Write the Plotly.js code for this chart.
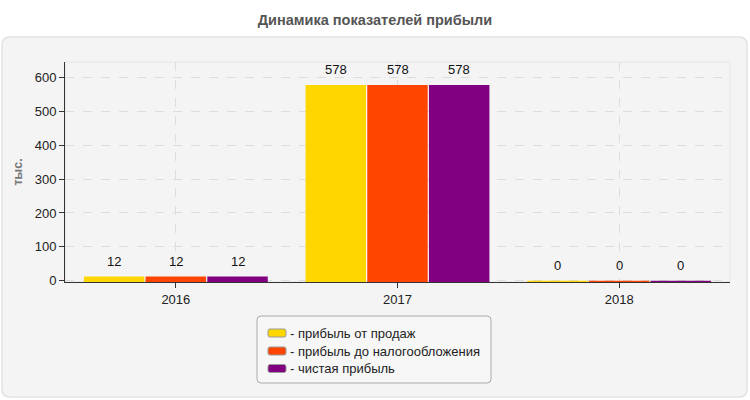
<!DOCTYPE html>
<html>
<head>
<meta charset="utf-8">
<script src="https://cdn.plot.ly/plotly-3.0.1.min.js"></script>
<style>
  html, body { margin: 0; padding: 0; background: #fff; }
  #chart { width: 750px; height: 400px; }
</style>
</head>
<body>
<div id="chart"></div>
<script>
// chart data
const years = ['2016', '2017', '2018'];
const salesProfit = [12, 578, 0];
const pretaxProfit = [12, 578, 0];
const netProfit = [12, 578, 0];
const seriesNames = ['- прибыль от продаж', '- прибыль до налогообложения', '- чистая прибыль'];
const seriesColors = ['#FFD700', '#FF4500', '#800080'];
const allSeries = [salesProfit, pretaxProfit, netProfit];

// plot box in pixels
const L = 65, R = 20, T = 62, B = 118, W = 750, H = 400;
const pw = W - L - R, ph = H - T - B;
const px = v => (v - L) / pw;
const py = v => (H - B - v) / ph;
const BARGAP = 0.165;
const barPx = pw / years.length * (1 - BARGAP) / allSeries.length;
// bars start a hair below zero so that zero values still show as a thin strip
const Y0 = -4;

// rounded rectangle path in paper coords
function roundRect(x0, y0, x1, y1, r) {
  const p = (x, y) => px(x) + ',' + py(y);
  return 'M' + p(x0 + r, y0) + ' L' + p(x1 - r, y0) + ' Q' + p(x1, y0) + ' ' + p(x1, y0 + r) +
    ' L' + p(x1, y1 - r) + ' Q' + p(x1, y1) + ' ' + p(x1 - r, y1) +
    ' L' + p(x0 + r, y1) + ' Q' + p(x0, y1) + ' ' + p(x0, y1 - r) +
    ' L' + p(x0, y0 + r) + ' Q' + p(x0, y0) + ' ' + p(x0 + r, y0) + ' Z';
}

const family = '"Liberation Sans", Arial, sans-serif';
const font = { family: family, size: 13, color: '#222' };

const traces = allSeries.map((vals, i) => ({
  type: 'bar',
  x: years,
  y: vals.map(v => v - Y0),
  base: Y0,
  name: seriesNames[i],
  marker: { color: seriesColors[i], line: { width: 0 } },
  customdata: vals,
  hovertemplate: '%{x}: %{customdata}<extra></extra>'
}));

// value labels above the bars (category index on x)
const labels = [];
allSeries.forEach((vals, i) => {
  vals.forEach((v, j) => {
    labels.push({
      xref: 'x', yref: 'y', x: j, y: v,
      xshift: (i - 1) * barPx, yshift: 6,
      yanchor: 'bottom', xanchor: 'center',
      text: String(v), showarrow: false,
      font: { family: family, size: 13, color: '#111' }
    });
  });
});

// custom legend (swatches + text)
const legendRows = [333, 351, 368.5];
const legendShapes = [
  {
    type: 'path', xref: 'paper', yref: 'paper', layer: 'below',
    path: roundRect(257, 316, 491, 383, 4),
    fillcolor: '#f7f7f7', line: { color: '#aaaaaa', width: 1 }
  }
];
seriesNames.forEach((name, i) => {
  const yc = legendRows[i];
  legendShapes.push({
    type: 'path', xref: 'paper', yref: 'paper', layer: 'above',
    path: roundRect(268, yc - 4, 286, yc + 4, 2),
    fillcolor: seriesColors[i], line: { color: '#999999', width: 1 }
  });
  labels.push({
    xref: 'paper', yref: 'paper', x: px(288), y: py(yc),
    xanchor: 'left', yanchor: 'middle',
    text: name, showarrow: false,
    font: { family: family, size: 13, color: '#222' }
  });
});

const layout = {
  width: W,
  height: H,
  margin: { l: L, r: R, t: T, b: B },
  paper_bgcolor: '#ffffff',
  plot_bgcolor: '#fbfbf6',
  font: font,
  title: {
    text: 'Динамика показателей прибыли',
    font: { family: family, size: 14.5, weight: 'bold', color: '#555' },
    x: 0.5, xanchor: 'center',
    y: 1 - 20 / H, yanchor: 'middle', yref: 'container'
  },
  barmode: 'group',
  bargap: BARGAP,
  bargroupgap: 0.02,
  showlegend: false,
  xaxis: {
    type: 'category',
    range: [-0.5, years.length - 0.5],
    layer: 'below traces',
    showline: true, linecolor: '#333', linewidth: 1,
    ticks: 'outside', ticklen: 5, tickcolor: '#333',
    showgrid: true, gridcolor: '#dddddd', griddash: 'dash', gridwidth: 1,
    tickfont: font,
    zeroline: false
  },
  yaxis: {
    range: [Y0, 646],
    tick0: 0,
    dtick: 100,
    showline: true, linecolor: '#333', linewidth: 1,
    ticks: 'outside', ticklen: 5, tickcolor: '#333',
    showgrid: true, gridcolor: '#dddddd', griddash: 'dash', gridwidth: 1,
    tickfont: font,
    zeroline: false,
    title: {
      text: 'тыс.',
      font: { family: family, size: 12.5, weight: 'bold', color: '#777' },
      standoff: 9
    }
  },
  annotations: labels,
  shapes: [
    {
      type: 'path', xref: 'paper', yref: 'paper', layer: 'below',
      path: roundRect(2, 37, 747, 397, 8),
      fillcolor: '#f4f4f4', line: { color: '#e2e2e2', width: 1.5 }
    },
    {
      type: 'rect', xref: 'paper', yref: 'paper', layer: 'below',
      x0: 0, x1: 1, y0: 0, y1: 1,
      fillcolor: 'rgba(0,0,0,0)', line: { color: '#e4e4e4', width: 1 }
    }
  ].concat(legendShapes)
};

Plotly.newPlot('chart', traces, layout, { displayModeBar: false, staticPlot: true });
</script>
</body>
</html>
